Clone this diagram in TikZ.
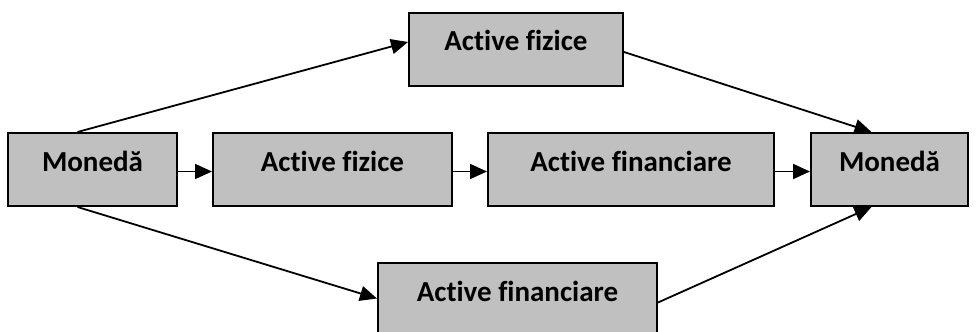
\documentclass[tikz,border=0pt]{standalone}
\usepackage{fontspec}
\setmainfont{Carlito}[RawFeature={-liga}]
\usetikzlibrary{arrows.meta, positioning}
\tikzstyle{arrow} = [line width=0.9pt,-{Triangle[length=8.5pt,width=7.5pt]}]
\tikzstyle{assetbox} = [rectangle, draw=black, line width=1pt, fill={rgb,255:red,192;green,192;blue,192}, minimum height=36.5pt, text height=0.8em, text depth=0.64em, font=\bfseries\fontsize{14.5}{17}\selectfont]
\tikzset{
	money/.style = {assetbox, minimum width=84.5pt},
}

\begin{document}
\begin{tikzpicture}[x=0.5pt, y=-0.5pt]
\useasboundingbox (0,0) rectangle (976,332);
% Placement of nodes
\node (moneyL) [money] at (92.5,169.5) {Monedă};
\node (physMid) [assetbox, minimum width=119.5pt] at (332.5,169.5) {Active fizice};
\node (finMid) [assetbox, minimum width=143pt] at (631,169.5) {Active financiare};
\node (moneyR) [money, minimum width=78.5pt] at (889.5,169.5) {Monedă};
% upper and lower paths
\node (physTop) [assetbox, minimum width=107pt] at (516,49) {Active fizice};
\node (finBot) [assetbox, minimum width=139.5pt] at (517.5,299.5) {Active financiare};

% Placement of edges
\draw [arrow] ([yshift=-1pt] moneyL.east) -- ([yshift=-1pt] physMid.west);
\draw [arrow] ([yshift=-1pt] physMid.east) -- ([yshift=-1pt] finMid.west);
\draw [arrow] ([yshift=-1pt] finMid.east) -- ([yshift=-1pt] moneyR.west);

% over physical assets
\draw [arrow] ([xshift=-7.5pt] moneyL.north) -- ([yshift=3.5pt] physTop.west);
\draw [arrow] ([yshift=-1.5pt] physTop.east) -- ([xshift=-9pt] moneyR.north);
% over financial assets
\draw [arrow] ([xshift=-7.5pt] moneyL.south) -- ([yshift=0.5pt] finBot.west);
\draw [arrow] ([yshift=-1.5pt] finBot.east) -- ([xshift=-9pt] moneyR.south);

\end{tikzpicture}
\end{document}
